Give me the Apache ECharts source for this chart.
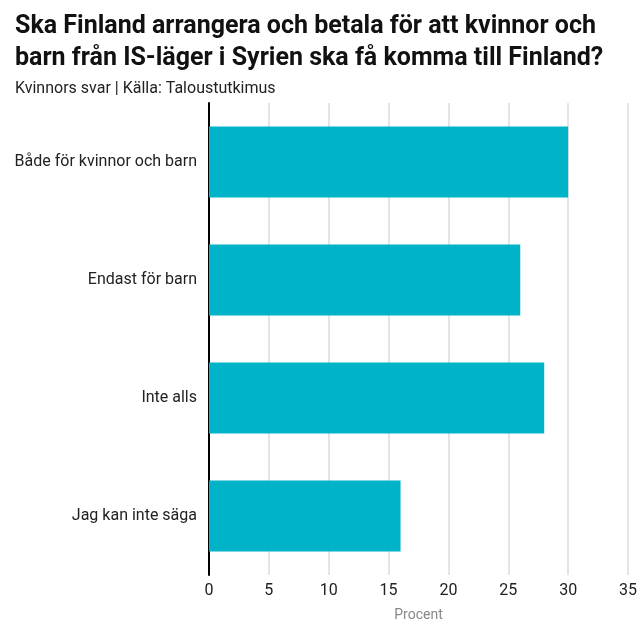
<!DOCTYPE html>
<html>
<head>
<meta charset="utf-8">
<script src="https://cdn.jsdelivr.net/npm/echarts@6/dist/echarts.min.js"></script>
<style>html,body{margin:0;padding:0;background:#fff}#c{width:640px;height:640px}</style>
</head>
<body>
<div id="c"></div>
<script>
var categories = ['Både för kvinnor och barn', 'Endast för barn', 'Inte alls', 'Jag kan inte säga'];
var values = [30, 26, 28, 16];

var chart = echarts.init(document.getElementById('c'));
var font = "'Liberation Sans Narrow', 'Roboto', sans-serif";
chart.setOption({
    backgroundColor: '#ffffff',
    animation: false,
    title: {
        text: 'Ska Finland arrangera och betala för att kvinnor och\nbarn från IS-läger i Syrien ska få komma till Finland?',
        subtext: 'Kvinnors svar | Källa: Taloustutkimus',
        left: 10,
        top: 6,
        itemGap: 6,
        textStyle: {fontFamily: font, fontSize: 25, fontWeight: 'bold', color: '#111', lineHeight: 32},
        subtextStyle: {fontFamily: font, fontSize: 16, color: '#222'}
    },
    grid: {left: 209, right: 11, top: 103, bottom: 65},
    xAxis: {
        type: 'value',
        min: 0,
        max: 35,
        interval: 5,
        name: 'Procent',
        nameLocation: 'center',
        nameGap: 33,
        nameTextStyle: {fontFamily: font, fontSize: 14, color: '#888'},
        axisLine: {show: false},
        axisTick: {show: false},
        axisLabel: {fontFamily: font, fontSize: 16, color: '#222'},
        splitLine: {lineStyle: {color: '#dddddd', width: 1.5}}
    },
    yAxis: {
        type: 'category',
        inverse: true,
        data: categories,
        axisLine: {lineStyle: {color: '#000', width: 2}},
        axisTick: {show: false},
        axisLabel: {fontFamily: font, fontSize: 16, color: '#222', margin: 12}
    },
    series: [{
        type: 'bar',
        data: values,
        barCategoryGap: '40%',
        itemStyle: {color: '#00b3c8'}
    }]
});
</script>
</body>
</html>
